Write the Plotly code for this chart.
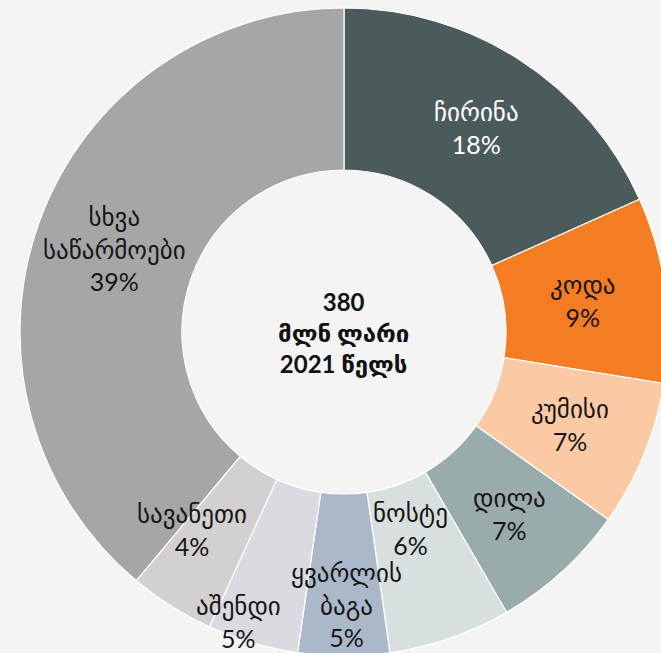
import math
import plotly.graph_objects as go

labels = ["ჩირინა", "კოდა", "კუმისი", "დილა", "ნოსტე", "ყვარლის<br>ბაგა", "აშენდი", "სავანეთი", "სხვა<br>საწარმოები"]
values = [69.5, 35.2, 27.7, 25.9, 23.2, 17.3, 17.2, 16.2, 148.0]
colors = ["#4b5b5b", "#f47c22", "#fbcaa5", "#9aabab", "#d7e0df", "#abb8ca", "#dcdae1", "#d2d0d1", "#a6a6a6"]
text_colors = ["#ffffff"] + ["#161616"] * 8
center_lines = ["380", "მლნ ლარი", "2021 წელს"]

# label placement style: radius as fraction of outer radius, and angular nudge (deg)
label_r = [0.75, 0.745, 0.755, 0.76, 0.64, 0.84, 0.95, 0.77, 0.755]
label_dtheta = [0, 0, 0, 0, 0.5, -0.5, 3.7, 5.3, 0]

W, H = 668, 656
dom_x = [20 / W, 1]
dom_y = [0, 648 / H]
FONT = "Lato, DejaVu Sans, sans-serif"

fig = go.Figure(go.Pie(
    labels=labels,
    values=values,
    hole=0.5,
    sort=False,
    direction="clockwise",
    rotation=0,
    marker=dict(colors=colors, line=dict(color="#ffffff", width=1.2)),
    textinfo="none",
    hoverinfo="label+percent",
    showlegend=False,
    domain=dict(x=dom_x, y=dom_y),
))

# pie geometry derived from its domain
cx = (dom_x[0] + dom_x[1]) / 2 * W
cy = (1 - (dom_y[0] + dom_y[1]) / 2) * H
R = min((dom_x[1] - dom_x[0]) * W, (dom_y[1] - dom_y[0]) * H) / 2

total = sum(values)
cum = 0.0
for lab, v, col, rf, dt in zip(labels, values, text_colors, label_r, label_dtheta):
    mid = (cum + v / 2) / total * 360 + dt
    cum += v
    px = cx + rf * R * math.sin(math.radians(mid))
    py = cy - rf * R * math.cos(math.radians(mid))
    pct = int(v / total * 100 + 0.5)
    fig.add_annotation(
        text=f"{lab}<br>{pct}%", x=px / W, y=1 - py / H, xref="paper", yref="paper",
        xanchor="center", yanchor="middle", showarrow=False, align="center",
        font=dict(family=FONT, size=25, color=col),
    )

fig.add_annotation(
    text="<br>".join(f"<b>{s}</b>" for s in center_lines),
    x=cx / W, y=1 - cy / H, xref="paper", yref="paper", xanchor="center", yanchor="middle",
    showarrow=False, align="center",
    font=dict(family=FONT, size=24, color="#111111"),
)

fig.update_layout(
    width=W, height=H,
    margin=dict(l=0, r=0, t=0, b=0),
    paper_bgcolor="#f4f4f4",
    plot_bgcolor="#f4f4f4",
)

post = ("document.documentElement.style.margin='0';document.body.style.margin='0';"
        "document.documentElement.style.overflow='hidden';document.body.style.overflow='hidden';"
        "document.body.style.background='#f4f4f4';")
fig.write_html("out.html", post_script=post, config={"displayModeBar": False})
